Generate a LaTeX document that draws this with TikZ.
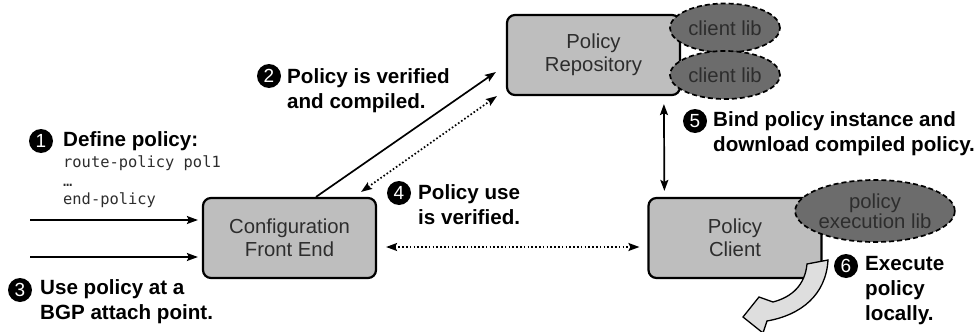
\documentclass[tikz,border=0pt]{standalone}
\usepackage{fontspec}
\setmainfont{Liberation Sans}
\setmonofont{DejaVu Sans Mono}
\usetikzlibrary{arrows.meta,positioning,calc,shapes.geometric}
\definecolor{boxgray}{RGB}{190,190,190}
\definecolor{libgray}{RGB}{108,108,108}
\definecolor{txtgray}{RGB}{45,45,45}
\definecolor{flowgray}{RGB}{222,222,222}
\tikzset{
  blk/.style={draw=black, line width=2.2pt, fill=boxgray, rounded corners=8pt,
              minimum width=173pt, minimum height=80pt, align=center, text=txtgray,
              font=\fontsize{20.3}{23}\selectfont},
  lib/.style={ellipse, draw=black, line width=1.7pt, dash pattern=on 5pt off 3pt,
              fill=libgray, inner sep=0pt, align=center, text=txtgray,
              font=\fontsize{20.3}{20}\selectfont},
  stepnum/.style={circle, fill=black, text=white, inner sep=0pt, minimum size=24pt,
              font=\fontsize{19}{19}\selectfont},
  lbl/.style={anchor=west, inner sep=0pt, align=left, font=\bfseries\fontsize{20.6}{25}\selectfont},
  code/.style={anchor=west, inner sep=0pt, align=left, text=txtgray,
              font=\ttfamily\fontsize{15.4}{18.5}\selectfont},
  arr/.style={-{Stealth[length=11pt,width=8pt,inset=2pt]}, line width=1.7pt},
  dbl/.style={{Stealth[length=11pt,width=8pt,inset=2pt]}-{Stealth[length=11pt,width=8pt,inset=2pt]},
              line width=1.7pt},
  dotarr/.style={dbl, dash pattern=on 1.6pt off 2.2pt},
}

\begin{document}
\begin{tikzpicture}[x=1pt, y=-1pt]
  \useasboundingbox (0,0) rectangle (978,332);

  % boxes and libraries
  \node[blk] (cfe) at (289.5,238) {Configuration\\Front End};
  \node[blk] (repo) at (593.5,55) {Policy\\Repository};
  \node[blk] (client) at (735,238) {Policy\\Client};
  \node[lib, minimum width=110pt, minimum height=49pt] (lib1) at (725,28) {client lib};
  \node[lib, minimum width=110pt, minimum height=48pt] (lib2) at (725,75) {client lib};
  \node[lib, minimum width=146pt, minimum height=62pt] (execlib) at (875,211) {policy\\execution lib};

  % connectors
  \coordinate (in1) at (30,220);
  \coordinate (in2) at (30,257);
  \draw[arr] (in1) -- ($(in1 -| cfe.west)+(-4,0)$);
  \draw[arr] (in2) -- ($(in2 -| cfe.west)+(-4,0)$);
  \draw[arr] ($(cfe.north)+(26.5,0)$) -- ($(repo.west)+(-10,17)$);
  \draw[dotarr] ($(cfe.north east)+(-16,-5)$) -- ($(repo.south west)+(-9,0)$);
  \draw[dotarr] ($(cfe.east)+(9,9)$) -- ($(client.west)+(-8,9)$);
  \draw[dbl] ($(client.north west)+(17,-6)$) -- ($(repo.south west)+(158,8)$);

  % execute arrow
  \filldraw[fill=flowgray, draw=black, line width=1.3pt]
    (807,264) .. controls (805,285) and (792,297) .. (773,302)
    -- (759,297) -- (743,317) -- (763,333) -- (767,321)
    .. controls (801,315) and (826,295) .. (828,260) -- cycle;

  % steps
  \node[stepnum] (n1) at (41,141) {1};
  \node[lbl] (l1) at (63,141) {Define policy:};
  \node[code] (c1) at (63,182) {route-policy pol1\\…\\end-policy};
  \node[stepnum] (n2) at (269,76) {2};
  \node[lbl] (l2) at (287,91) {Policy is verified\\and compiled.};
  \node[stepnum] (n3) at (20,290) {3};
  \node[lbl] (l3) at (40,302) {Use policy at a\\BGP attach point.};
  \node[stepnum] (n4) at (399,193) {4};
  \node[lbl] (l4) at (418,205) {Policy use\\is verified.};
  \node[stepnum] (n5) at (695,121) {5};
  \node[lbl] (l5) at (713,134) {Bind policy instance and\\download compiled policy.};
  \node[stepnum] (n6) at (846,266) {6};
  \node[lbl] (l6) at (865,291) {Execute\\policy\\locally.};
\end{tikzpicture}
\end{document}
